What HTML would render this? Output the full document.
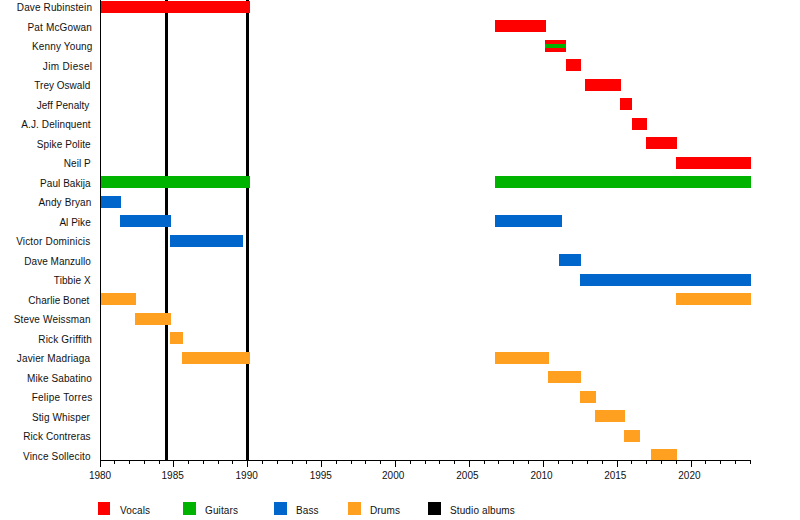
<!DOCTYPE html><html><head><meta charset="utf-8"><style>html,body{margin:0;padding:0;background:#fff;}svg{display:block;}text{font-family:"Liberation Sans",sans-serif;font-size:10px;fill:#111;}</style></head><body>
<svg width="800" height="520" viewBox="0 0 800 520" shape-rendering="crispEdges">
<rect x="0" y="0" width="800" height="520" fill="#fff"/>
<rect x="165" y="0" width="3" height="460" fill="#000"/>
<rect x="246" y="0" width="3" height="460" fill="#000"/>
<rect x="100" y="0" width="1" height="467" fill="#000"/>
<rect x="114" y="460" width="1" height="4" fill="#000"/>
<rect x="129" y="460" width="1" height="4" fill="#000"/>
<rect x="144" y="460" width="1" height="4" fill="#000"/>
<rect x="159" y="460" width="1" height="4" fill="#000"/>
<rect x="173" y="460" width="1" height="7" fill="#000"/>
<rect x="188" y="460" width="1" height="4" fill="#000"/>
<rect x="203" y="460" width="1" height="4" fill="#000"/>
<rect x="218" y="460" width="1" height="4" fill="#000"/>
<rect x="232" y="460" width="1" height="4" fill="#000"/>
<rect x="247" y="460" width="1" height="7" fill="#000"/>
<rect x="262" y="460" width="1" height="4" fill="#000"/>
<rect x="277" y="460" width="1" height="4" fill="#000"/>
<rect x="292" y="460" width="1" height="4" fill="#000"/>
<rect x="306" y="460" width="1" height="4" fill="#000"/>
<rect x="321" y="460" width="1" height="7" fill="#000"/>
<rect x="336" y="460" width="1" height="4" fill="#000"/>
<rect x="351" y="460" width="1" height="4" fill="#000"/>
<rect x="365" y="460" width="1" height="4" fill="#000"/>
<rect x="380" y="460" width="1" height="4" fill="#000"/>
<rect x="395" y="460" width="1" height="7" fill="#000"/>
<rect x="410" y="460" width="1" height="4" fill="#000"/>
<rect x="425" y="460" width="1" height="4" fill="#000"/>
<rect x="439" y="460" width="1" height="4" fill="#000"/>
<rect x="454" y="460" width="1" height="4" fill="#000"/>
<rect x="469" y="460" width="1" height="7" fill="#000"/>
<rect x="484" y="460" width="1" height="4" fill="#000"/>
<rect x="498" y="460" width="1" height="4" fill="#000"/>
<rect x="513" y="460" width="1" height="4" fill="#000"/>
<rect x="528" y="460" width="1" height="4" fill="#000"/>
<rect x="543" y="460" width="1" height="7" fill="#000"/>
<rect x="558" y="460" width="1" height="4" fill="#000"/>
<rect x="572" y="460" width="1" height="4" fill="#000"/>
<rect x="587" y="460" width="1" height="4" fill="#000"/>
<rect x="602" y="460" width="1" height="4" fill="#000"/>
<rect x="617" y="460" width="1" height="7" fill="#000"/>
<rect x="631" y="460" width="1" height="4" fill="#000"/>
<rect x="646" y="460" width="1" height="4" fill="#000"/>
<rect x="661" y="460" width="1" height="4" fill="#000"/>
<rect x="676" y="460" width="1" height="4" fill="#000"/>
<rect x="691" y="460" width="1" height="7" fill="#000"/>
<rect x="705" y="460" width="1" height="4" fill="#000"/>
<rect x="720" y="460" width="1" height="4" fill="#000"/>
<rect x="735" y="460" width="1" height="4" fill="#000"/>
<rect x="750" y="460" width="1" height="4" fill="#000"/>
<text x="100.0" y="479" text-anchor="middle">1980</text>
<text x="172.7" y="479" text-anchor="middle">1985</text>
<text x="246.7" y="479" text-anchor="middle">1990</text>
<text x="320.8" y="479" text-anchor="middle">1995</text>
<text x="393.2" y="479" text-anchor="middle">2000</text>
<text x="467.4" y="479" text-anchor="middle">2005</text>
<text x="541.5" y="479" text-anchor="middle">2010</text>
<text x="615.3" y="479" text-anchor="middle">2015</text>
<text x="689.4" y="479" text-anchor="middle">2020</text>
<rect x="101" y="1" width="149" height="12" fill="#ff0000"/>
<rect x="495" y="20" width="51" height="12" fill="#ff0000"/>
<rect x="545" y="40" width="21" height="12" fill="#ff0000"/>
<rect x="566" y="59" width="15" height="12" fill="#ff0000"/>
<rect x="585" y="79" width="36" height="12" fill="#ff0000"/>
<rect x="620" y="98" width="12" height="12" fill="#ff0000"/>
<rect x="632" y="118" width="15" height="12" fill="#ff0000"/>
<rect x="646" y="137" width="31" height="12" fill="#ff0000"/>
<rect x="676" y="157" width="75" height="12" fill="#ff0000"/>
<rect x="101" y="176" width="149" height="12" fill="#00b300"/>
<rect x="495" y="176" width="256" height="12" fill="#00b300"/>
<rect x="101" y="196" width="20" height="12" fill="#0066cc"/>
<rect x="120" y="215" width="51" height="12" fill="#0066cc"/>
<rect x="495" y="215" width="67" height="12" fill="#0066cc"/>
<rect x="170" y="235" width="73" height="12" fill="#0066cc"/>
<rect x="559" y="254" width="22" height="12" fill="#0066cc"/>
<rect x="580" y="274" width="171" height="12" fill="#0066cc"/>
<rect x="101" y="293" width="35" height="12" fill="#ffa020"/>
<rect x="676" y="293" width="75" height="12" fill="#ffa020"/>
<rect x="135" y="313" width="36" height="12" fill="#ffa020"/>
<rect x="170" y="332" width="13" height="12" fill="#ffa020"/>
<rect x="182" y="352" width="68" height="12" fill="#ffa020"/>
<rect x="495" y="352" width="54" height="12" fill="#ffa020"/>
<rect x="548" y="371" width="33" height="12" fill="#ffa020"/>
<rect x="580" y="391" width="16" height="12" fill="#ffa020"/>
<rect x="595" y="410" width="30" height="12" fill="#ffa020"/>
<rect x="624" y="430" width="16" height="12" fill="#ffa020"/>
<rect x="651" y="449" width="26" height="11" fill="#ffa020"/>
<rect x="545" y="44" width="21" height="4" fill="#00b300"/>
<rect x="100" y="460" width="651" height="1" fill="#000"/>
<text x="92.08" y="11" text-anchor="end" letter-spacing="0.126">Dave Rubinstein</text>
<text x="92.08" y="31" text-anchor="end" letter-spacing="0.160">Pat McGowan</text>
<text x="92.56" y="50" text-anchor="end" letter-spacing="0.144">Kenny Young</text>
<text x="92.40" y="70" text-anchor="end" letter-spacing="0.347">Jim Diesel</text>
<text x="90.24" y="89" text-anchor="end" letter-spacing="0.016">Trey Oswald</text>
<text x="89.44" y="109" text-anchor="end" letter-spacing="0.058">Jeff Penalty</text>
<text x="90.72" y="128" text-anchor="end" letter-spacing="0.103">A.J. Delinquent</text>
<text x="90.72" y="148" text-anchor="end" letter-spacing="0.087">Spike Polite</text>
<text x="90.72" y="167" text-anchor="end" letter-spacing="0.048">Neil P</text>
<text x="90.72" y="187" text-anchor="end" letter-spacing="0.056">Paul Bakija</text>
<text x="91.52" y="206" text-anchor="end" letter-spacing="0.142">Andy Bryan</text>
<text x="90.72" y="226" text-anchor="end" letter-spacing="0.027">Al Pike</text>
<text x="90.40" y="245" text-anchor="end" letter-spacing="0.171">Victor Dominicis</text>
<text x="90.80" y="265" text-anchor="end" letter-spacing="0.027">Dave Manzullo</text>
<text x="90.80" y="284" text-anchor="end" letter-spacing="0.080">Tibbie X</text>
<text x="89.44" y="304" text-anchor="end" letter-spacing="0.040">Charlie Bonet</text>
<text x="90.80" y="323" text-anchor="end" letter-spacing="0.160">Steve Weissman</text>
<text x="92.08" y="343" text-anchor="end" letter-spacing="0.180">Rick Griffith</text>
<text x="90.16" y="362" text-anchor="end" letter-spacing="0.149">Javier Madriaga</text>
<text x="91.84" y="382" text-anchor="end" letter-spacing="0.107">Mike Sabatino</text>
<text x="92.48" y="401" text-anchor="end" letter-spacing="0.247">Felipe Torres</text>
<text x="90.08" y="421" text-anchor="end" letter-spacing="0.124">Stig Whisper</text>
<text x="90.72" y="440" text-anchor="end" letter-spacing="0.098">Rick Contreras</text>
<text x="90.72" y="460" text-anchor="end" letter-spacing="0.149">Vince Sollecito</text>
<rect x="98" y="502" width="12" height="13" fill="#ff0000"/>
<text x="120" y="514" letter-spacing="0.12">Vocals</text>
<rect x="183" y="502" width="13" height="13" fill="#00b300"/>
<text x="205" y="514" letter-spacing="0.12">Guitars</text>
<rect x="274" y="502" width="13" height="13" fill="#0066cc"/>
<text x="296" y="514" letter-spacing="0.12">Bass</text>
<rect x="348" y="502" width="13" height="13" fill="#ffa020"/>
<text x="370" y="514" letter-spacing="0.12">Drums</text>
<rect x="428" y="502" width="13" height="13" fill="#000"/>
<text x="450" y="514" letter-spacing="0.12">Studio albums</text>
</svg></body></html>
